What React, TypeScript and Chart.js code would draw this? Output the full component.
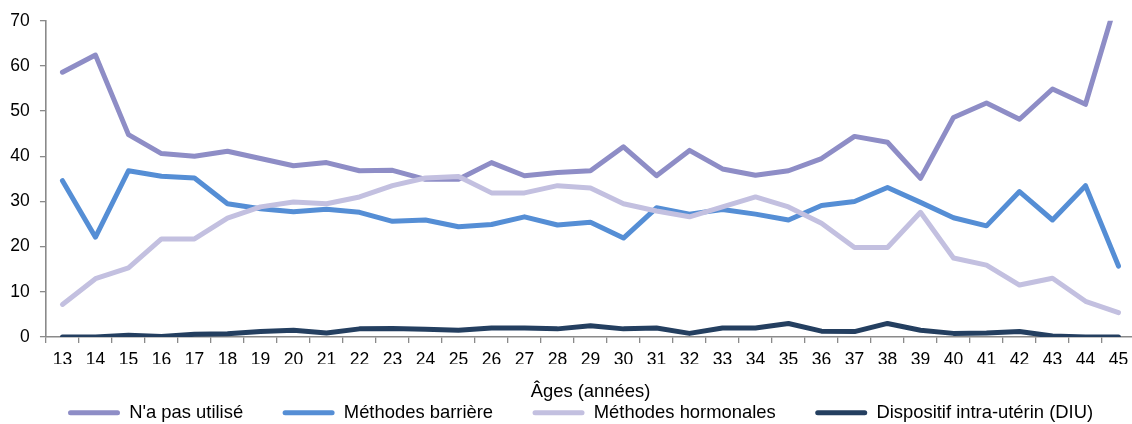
import { useEffect, useRef } from 'react';
import { Chart, registerables } from 'chart.js';

Chart.register(...registerables);

const ages = ['13', '14', '15', '16', '17', '18', '19', '20', '21', '22', '23', '24', '25', '26', '27', '28', '29', '30', '31', '32', '33', '34', '35', '36', '37', '38', '39', '40', '41', '42', '43', '44', '45'];

const seriesNames = ["N'a pas utilisé", 'Méthodes barrière', 'Méthodes hormonales', 'Dispositif intra-utérin (DIU)'];

const nonUtilise = [58.6, 62.4, 44.8, 40.6, 40.0, 41.1, 39.5, 37.9, 38.6, 36.8, 36.9, 34.9, 34.9, 38.6, 35.7, 36.4, 36.8, 42.1, 35.7, 41.3, 37.2, 35.8, 36.8, 39.5, 44.4, 43.1, 35.1, 48.6, 51.8, 48.2, 54.9, 51.5, 76.0];

const barriere = [34.6, 22.1, 36.8, 35.6, 35.2, 29.5, 28.4, 27.7, 28.3, 27.6, 25.6, 25.9, 24.4, 24.9, 26.6, 24.8, 25.4, 21.9, 28.6, 27.2, 28.2, 27.2, 25.9, 29.1, 30.0, 33.1, 29.8, 26.4, 24.6, 32.2, 25.9, 33.5, 15.7];

const hormonales = [7.2, 12.9, 15.3, 21.7, 21.7, 26.3, 28.8, 29.9, 29.5, 31.0, 33.5, 35.2, 35.5, 31.9, 31.9, 33.5, 33.0, 29.5, 27.9, 26.6, 28.8, 31.0, 28.8, 25.2, 19.8, 19.8, 27.6, 17.5, 15.9, 11.5, 13.0, 7.9, 5.4];

const diu = [0, 0, 0.4, 0.1, 0.6, 0.7, 1.2, 1.5, 0.9, 1.8, 1.9, 1.7, 1.5, 2.0, 2.0, 1.8, 2.5, 1.8, 2.0, 0.8, 2.0, 2.0, 3.0, 1.3, 1.2, 3.0, 1.5, 0.8, 0.9, 1.2, 0.2, 0, 0];

const yMin = 0;
const yMax = 70;
const yStep = 10;

const axisTitle = 'Âges (années)';

const colors = ['#8E8DC6', '#558ED5', '#C3C0E0', '#243F60'];
const FONT = "'Liberation Sans', Arial, sans-serif";
const AXIS_GREY = '#8a8a8a';

// Shifts the bottom legend to the right so it is centred like the reference.
const legendShift = {
  id: 'legendShift',
  afterLayout(chart: any) {
    const lg = chart.legend;
    if (lg) {
      lg.left += 28.5;
      lg.right += 28.5;
    }
  },
};

export default function App() {
  const canvasRef = useRef<HTMLCanvasElement | null>(null);

  useEffect(() => {
    const canvas = canvasRef.current;
    if (!canvas) return;
    const seriesData = [nonUtilise, barriere, hormonales, diu];
    const chart = new Chart(canvas, {
      type: 'line',
      data: {
        labels: ages,
        datasets: seriesData.map((d, i) => ({
          label: seriesNames[i],
          data: d,
          borderColor: colors[i],
          backgroundColor: colors[i],
          borderWidth: 5,
          pointRadius: 0,
          pointHoverRadius: 0,
          tension: 0,
          fill: false,
          borderJoinStyle: 'round' as const,
          borderCapStyle: 'round' as const,
          order: seriesData.length - 1 - i,
        })),
      },
      plugins: [legendShift],
      options: {
        responsive: false,
        animation: false,
        layout: { padding: { left: 0, top: 16, right: 0, bottom: 0 } },
        plugins: {
          tooltip: { enabled: false },
          legend: {
            position: 'bottom',
            align: 'start',
            labels: {
              boxWidth: 52,
              boxHeight: 5,
              padding: 39.5,
              color: '#000',
              font: { family: FONT, size: 18.4 },
              sort: (a: any, b: any) => a.datasetIndex - b.datasetIndex,
              generateLabels: (c: any) =>
                Chart.defaults.plugins.legend.labels.generateLabels(c).map((l: any) => ({
                  ...l,
                  lineWidth: 0,
                  borderRadius: 2.5,
                })),
            },
          },
        },
        scales: {
          x: {
            type: 'category',
            offset: true,
            grid: {
              offset: true,
              drawOnChartArea: false,
              drawTicks: true,
              tickLength: 6,
              color: AXIS_GREY,
              lineWidth: 1.3,
            },
            border: { display: true, color: AXIS_GREY, width: 1.6 },
            ticks: {
              color: '#000',
              font: { family: FONT, size: 17.5 },
              padding: 6.5,
              maxRotation: 0,
              autoSkip: false,
            },
            title: {
              display: true,
              text: axisTitle,
              color: '#000',
              font: { family: FONT, size: 18.4 },
              padding: { top: 3.96, bottom: -38.94 },
            },
          },
          y: {
            min: yMin,
            max: yMax,
            grid: {
              drawOnChartArea: false,
              drawTicks: true,
              tickLength: 6,
              color: AXIS_GREY,
              lineWidth: 1.3,
            },
            border: { display: true, color: AXIS_GREY, width: 1.6 },
            ticks: {
              stepSize: yStep,
              color: '#000',
              font: { family: FONT, size: 17.5 },
              padding: 10.25,
            },
          },
        },
      },
    });
    return () => chart.destroy();
  }, []);

  return (
    <canvas
      ref={canvasRef}
      width={1135}
      height={432}
      style={{ position: 'fixed', left: 0, top: 0, display: 'block', width: 1135, height: 432 }}
    />
  );
}
